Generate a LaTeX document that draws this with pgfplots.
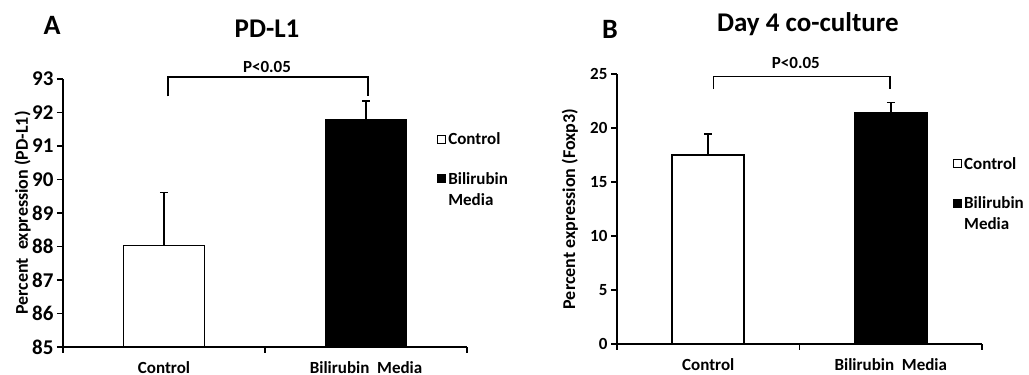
\documentclass[border=0pt]{standalone}
\usepackage{pgfplots}
\pgfplotsset{compat=1.18}
\usepackage{fontspec}
\setmainfont{Carlito}

\begin{document}
\begin{tikzpicture}
\useasboundingbox (0pt,0pt) rectangle (1029pt,375pt);
\pgfplotsset{
  common/.style={
    scale only axis,
    axis x line*=bottom, axis y line*=left,
    axis line style={-, line width=1.6pt},
    clip=false,
    xmin=-0.5, xmax=1.5,
    xtick={-0.5,0.5,1.5},
    xticklabels={},
    extra x ticks={0,1},
    extra x tick labels={Control, Bilirubin\ \ Media},
    extra x tick style={major tick length=0pt, xticklabel style={anchor=base, yshift=-26.5pt}},
    tick align=outside,
    major tick length=6pt,
    every tick/.style={line width=1.6pt, black},
    /pgf/number format/assume math mode=true,
    xticklabel style={font=\fontsize{17}{17}\selectfont\bfseries},
    ylabel style={font=\fontsize{18}{18}\selectfont\bfseries, anchor=center},
    title style={font=\fontsize{27}{27}\selectfont\bfseries, anchor=base},
    ybar, bar shift=0pt,
    legend cell align=left,
    legend style={draw=none, fill=none, anchor=north west, font=\fontsize{17}{21}\selectfont\bfseries,
      cells={align=left}, row sep=22pt, inner sep=0pt},
    legend image code/.code={\draw[#1, line width=1pt] (0pt,-4pt) rectangle (8pt,4pt);},
  },
  errs/.style={error bars/.cd, y dir=plus, y explicit,
    error bar style={line width=1.6pt, black},
    error mark options={rotate=90, line width=1.6pt, black, mark size=4pt}},
  upimg/.style={legend image code/.code={\draw[##1, line width=1pt] (0pt,6.5pt) rectangle (8pt,14.5pt);}},
}
% Panel A
\begin{axis}[common,
  at={(63pt,28pt)}, anchor=south west,
  width=404pt, height=268pt,
  ymin=85, ymax=93, ytick={85,86,...,93},
  yticklabel style={font=\fontsize{21}{21}\selectfont\bfseries},
  bar width=81pt,
  ylabel={Percent\ \ expression (PD-L1)},
  ylabel style={at={(axis description cs:-0.10,0.5)}},
  title={PD-L1},
  title style={at={(axis description cs:0.505,1.133)}},
  legend style={at={(axis description cs:0.926,0.808)}},
]
\addplot[fill=white, draw=black, line width=1.6pt, errs]
  coordinates {(0,88.03) +- (0,1.58)};
\addlegendentry{Control}
\addplot[fill=black, draw=black, line width=1.6pt, upimg, errs]
  coordinates {(1,91.78) +- (0,0.57)};
\addlegendentry{Bilirubin\\Media}
\draw[line width=1.3pt] (axis cs:0.02,92.48) -- (axis cs:0.02,93.06) -- (axis cs:1.01,93.06) -- (axis cs:1.01,92.48);
\node[anchor=base, font=\fontsize{17}{17}\selectfont\bfseries] at (axis cs:0.51,93.18) {P<0.05};
\node[anchor=base, font=\fontsize{28}{28}\selectfont\bfseries] at (axis description cs:-0.027,1.165) {A};
\end{axis}
% Panel B
\begin{axis}[common,
  at={(617pt,31pt)}, anchor=south west,
  width=365pt, height=270pt,
  ymin=0, ymax=25, ytick={0,5,...,25},
  yticklabel style={font=\fontsize{17}{17}\selectfont\bfseries},
  bar width=72pt,
  ylabel={Percent expression (Foxp3)},
  ylabel style={at={(axis description cs:-0.129,0.5)}},
  title={Day 4 co-culture},
  title style={at={(axis description cs:0.523,1.135)}},
  legend style={at={(axis description cs:0.9205,0.70)}},
]
\addplot[fill=white, draw=black, line width=1.6pt, errs]
  coordinates {(0,17.50) +- (0,1.94)};
\addlegendentry{Control}
\addplot[fill=black, draw=black, line width=1.6pt, upimg, errs]
  coordinates {(1,21.40) +- (0,0.97)};
\addlegendentry{Bilirubin\\Media}
\draw[line width=1.3pt] (axis cs:0.03,23.6) -- (axis cs:0.03,24.8) -- (axis cs:0.996,24.8) -- (axis cs:0.996,23.6);
\node[anchor=base, font=\fontsize{17}{17}\selectfont\bfseries] at (axis cs:0.48,25.55) {P<0.05};
\node[anchor=base, font=\fontsize{28}{28}\selectfont\bfseries] at (axis description cs:-0.019,1.133) {B};
\end{axis}
\end{tikzpicture}
\end{document}
